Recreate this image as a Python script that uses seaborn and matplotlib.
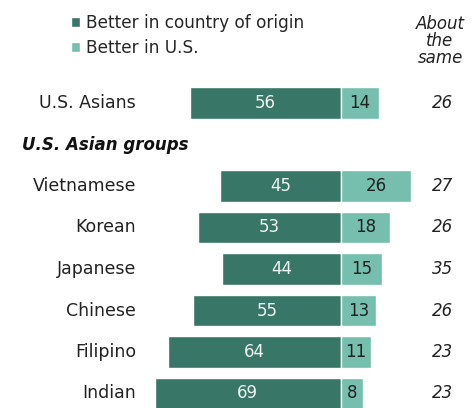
import matplotlib
matplotlib.use('Agg')

import pandas as pd
import matplotlib.pyplot as plt
import seaborn as sns

# 数据
groups = ["U.S. Asians", "Vietnamese", "Korean", "Japanese", "Chinese", "Filipino", "Indian"]
origin = [56, 45, 53, 44, 55, 64, 69]
better_us = [14, 26, 18, 15, 13, 11, 8]
same = [26, 27, 26, 35, 26, 23, 23]

header = "U.S. Asian groups"
order = ["U.S. Asians", header, "Vietnamese", "Korean", "Japanese", "Chinese", "Filipino", "Indian"]

df = pd.DataFrame({"group": groups, "origin": origin, "us": better_us, "same": same})
df["origin_neg"] = -df["origin"]

dark = "#387767"
light = "#76bead"

sns.set_style("white")
plt.rcParams['font.family'] = ['DejaVu Sans']

fig = plt.figure(figsize=(4.71, 4.08), dpi=100)
ax = fig.add_axes([0, 0, 1, 1])

sns.barplot(data=df, y="group", x="origin_neg", order=order, orient="y",
            color=dark, saturation=1, width=0.77, label="Better in country of origin", ax=ax)
sns.barplot(data=df, y="group", x="us", order=order, orient="y",
            color=light, saturation=1, width=0.77, label="Better in U.S.", ax=ax)

ax.bar_label(ax.containers[0], fmt=lambda v: f"{abs(v):.0f}", label_type="center",
             color="#eef4f2", fontsize=12)
ax.bar_label(ax.containers[1], fmt=lambda v: f"{abs(v):.0f}", label_type="center",
             color="#222222", fontsize=12)

# 坐标: 0 在 x=341px, 2.7px/单位
ax.set_xlim(-341 / 2.7, (471 - 341) / 2.7)
ax.set_ylim((408 - 103) / 41.5, -103 / 41.5)
ax.axis("off")

label_x = (136 - 341) / 2.7
for i, row in df.iterrows():
    ypos = order.index(row["group"])
    ax.text(label_x, ypos, row["group"], ha="right", va="center", fontsize=12.5, color="#222222")
    ax.text((453 - 341) / 2.7, ypos, str(row["same"]), ha="right", va="center",
            fontsize=12, style="italic", color="#222222")

ax.text((22 - 341) / 2.7, 1, header, ha="left", va="center", fontsize=12,
        fontweight="bold", style="italic", color="#111111")

ax.text((440 - 341) / 2.7, (41 - 103) / 41.5, "About\nthe\nsame", ha="center", va="center",
        fontsize=12, style="italic", color="#222222", linespacing=0.95)

ax.legend(loc="upper left", bbox_to_anchor=(71 / 471, 1 - 14 / 408), frameon=False,
          fontsize=12.2, handlelength=0.55, handleheight=0.55, handletextpad=0.35,
          labelspacing=0.4, borderaxespad=0, borderpad=0)

fig.savefig("out.png", dpi=100)
plt.close()
